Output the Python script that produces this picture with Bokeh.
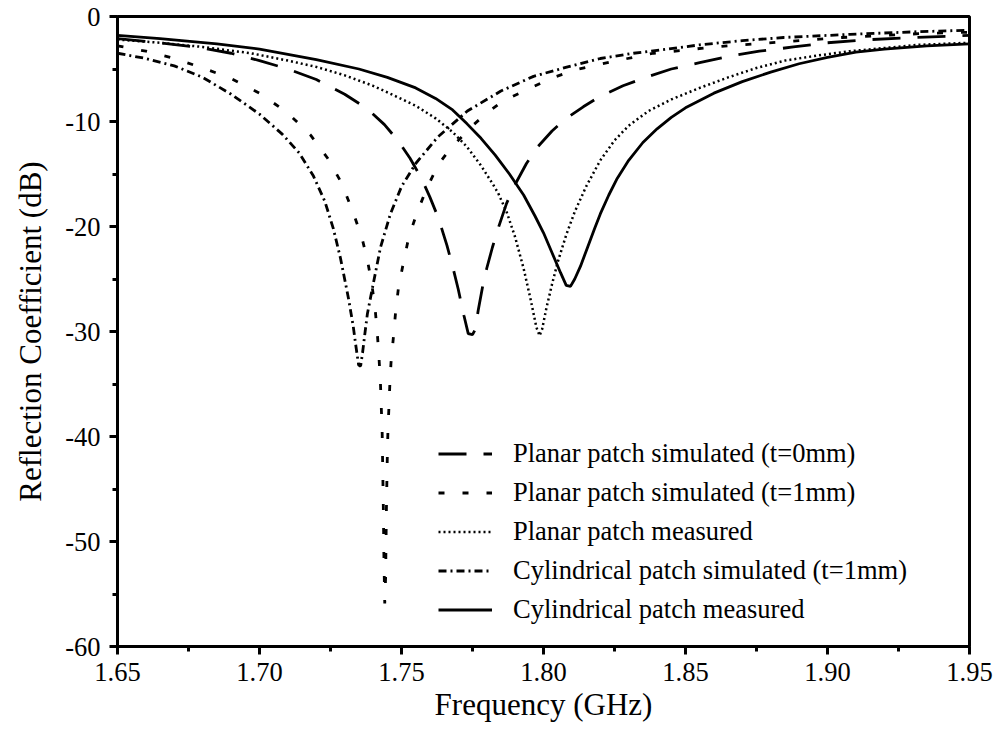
from bokeh.plotting import figure
from bokeh.models import FixedTicker, PrintfTickFormatter, Legend, LegendItem, Range1d
from bokeh.embed import file_html
from bokeh.resources import INLINE

# ---- data (frequency in GHz, reflection coefficient in dB) ----
f_sim0 = [1.65, 1.665, 1.68, 1.69, 1.70, 1.71, 1.72, 1.73, 1.738, 1.744, 1.749, 1.753, 1.757,
          1.760, 1.763, 1.766, 1.768, 1.770, 1.772, 1.7735, 1.775, 1.776, 1.777, 1.7785, 1.780,
          1.782, 1.784, 1.787, 1.790, 1.794, 1.798, 1.803, 1.808, 1.814, 1.820, 1.828, 1.836,
          1.845, 1.855, 1.865, 1.876, 1.888, 1.900, 1.915, 1.930, 1.95]
db_sim0 = [-2.1, -2.5, -3.0, -3.5, -4.2, -5.0, -6.0, -7.4, -8.8, -10.3, -11.9, -13.5, -15.4,
           -17.2, -19.2, -21.8, -23.8, -26.0, -28.5, -30.2, -30.3, -29.8, -28.0, -25.8, -24.0,
           -22.0, -20.2, -17.8, -16.0, -14.0, -12.4, -10.9, -9.7, -8.6, -7.6, -6.6, -5.8,
           -5.0, -4.4, -3.8, -3.3, -2.9, -2.5, -2.2, -2.0, -1.8]

f_sim1 = [1.65, 1.66, 1.67, 1.68, 1.69, 1.70, 1.71, 1.718, 1.724, 1.729, 1.733, 1.736, 1.738,
          1.7395, 1.7407, 1.7415, 1.7421, 1.7426, 1.7432, 1.7436, 1.7438, 1.7441,
          1.7444, 1.7447, 1.7450, 1.7452, 1.7459, 1.7463, 1.7472, 1.7479, 1.7489, 1.7507,
          1.7525, 1.7553, 1.759, 1.763, 1.766, 1.770, 1.775, 1.780, 1.786, 1.7947, 1.8035,
          1.8123, 1.8208, 1.8296, 1.8387, 1.85, 1.86, 1.875, 1.89, 1.905, 1.92, 1.935, 1.95]
db_sim1 = [-2.8, -3.3, -4.0, -4.9, -5.9, -7.3, -9.2, -11.3, -13.5, -15.9, -18.7, -21.0, -23.2,
           -25.4, -27.8, -30.2, -32.6, -35.0, -39.7, -46.7, -51.3, -55.9,
           -53.5, -46.7, -42.0, -39.7, -35.0, -33.0, -30.4, -28.2, -25.9, -23.4,
           -21.1, -18.8, -16.3, -14.1, -13.0, -11.8, -10.4, -9.2, -8.0, -6.9, -5.8,
           -5.0, -4.5, -4.0, -3.5, -3.2, -2.9, -2.6, -2.3, -2.0, -1.8, -1.6, -1.5]

f_pmeas = [1.65, 1.665, 1.68, 1.697, 1.71, 1.72, 1.73, 1.74, 1.748, 1.755, 1.762, 1.768,
           1.773, 1.778, 1.782, 1.784, 1.787, 1.790, 1.793, 1.7955, 1.7975, 1.7986, 1.7995,
           1.801, 1.803, 1.805, 1.808, 1.811, 1.815, 1.820, 1.825, 1.830, 1.837, 1.845,
           1.855, 1.865, 1.875, 1.885, 1.897, 1.908, 1.920, 1.932, 1.95]
db_pmeas = [-2.2, -2.5, -2.9, -3.5, -4.2, -4.8, -5.6, -6.6, -7.6, -8.5, -9.7, -11.0,
            -12.4, -14.2, -15.9, -16.8, -18.6, -21.0, -24.0, -27.0, -29.6, -30.4, -29.8,
            -27.8, -25.5, -23.4, -20.8, -18.6, -16.2, -13.7, -11.8, -10.4, -9.0, -7.9,
            -6.8, -5.8, -4.9, -4.2, -3.7, -3.3, -3.0, -2.7, -2.5]

f_csim = [1.65, 1.66, 1.67, 1.68, 1.69, 1.70, 1.708, 1.714, 1.719, 1.723, 1.726, 1.7285,
          1.7313, 1.7330, 1.7340, 1.7349, 1.7356, 1.7363, 1.7372, 1.738, 1.7398, 1.7426,
          1.7461, 1.750, 1.755, 1.7627, 1.7732, 1.785, 1.7965, 1.8085, 1.820, 1.8317,
          1.8437, 1.855, 1.870, 1.8845, 1.908, 1.9317, 1.95]
db_csim = [-3.5, -4.0, -4.7, -5.8, -7.4, -9.3, -11.2, -13.0, -15.2, -17.6, -20.2, -23.0,
           -26.8, -29.5, -31.5, -33.2, -33.3, -32.0, -30.0, -28.3, -25.8, -22.0,
           -18.8, -16.2, -14.0, -11.5, -9.0, -7.1, -5.7, -4.8, -4.0, -3.5,
           -3.1, -2.7, -2.3, -2.0, -1.7, -1.45, -1.3]

f_cmeas = [1.65, 1.665, 1.685, 1.700, 1.720, 1.735, 1.745, 1.755, 1.762, 1.768, 1.773,
           1.778, 1.783, 1.788, 1.793, 1.797, 1.800, 1.803, 1.806, 1.808, 1.8095, 1.811,
           1.813, 1.8155, 1.818, 1.820, 1.823, 1.826, 1.830, 1.835, 1.840, 1.845, 1.850,
           1.860, 1.870, 1.880, 1.890, 1.900, 1.910, 1.920, 1.935, 1.95]
db_cmeas = [-1.8, -2.1, -2.6, -3.1, -4.1, -5.0, -5.8, -6.8, -7.8, -8.9, -10.2,
            -11.6, -13.2, -15.0, -17.0, -19.0, -20.6, -22.5, -24.4, -25.6, -25.7, -25.0,
            -23.8, -22.0, -20.2, -18.8, -17.0, -15.4, -13.7, -12.0, -10.7, -9.6, -8.7,
            -7.3, -6.2, -5.3, -4.5, -3.9, -3.4, -3.1, -2.8, -2.6]

labels = ["Planar patch simulated (t=0mm)", "Planar patch simulated (t=1mm)",
          "Planar patch measured", "Cylindrical patch simulated (t=1mm)",
          "Cylindrical patch measured"]

x_major = [1.65, 1.70, 1.75, 1.80, 1.85, 1.90, 1.95]
x_minor = [1.675, 1.725, 1.775, 1.825, 1.875, 1.925]
y_major = [0, -10, -20, -30, -40, -50, -60]
y_minor = [-5, -15, -25, -35, -45, -55]

FONT = "Liberation Serif"

p = figure(width=999, height=733, output_backend="svg", toolbar_location=None,
           x_range=Range1d(1.65, 1.95), y_range=Range1d(-60, 0),
           min_border_left=117, min_border_right=30, min_border_top=16, min_border_bottom=87)
p.background_fill_color = "white"
p.border_fill_color = "white"
p.xgrid.visible = False
p.ygrid.visible = False
p.outline_line_color = "black"
p.outline_line_width = 3

p.xaxis.ticker = FixedTicker(ticks=x_major, minor_ticks=x_minor)
p.yaxis.ticker = FixedTicker(ticks=y_major, minor_ticks=y_minor)
p.xaxis.formatter = PrintfTickFormatter(format="%.2f")
p.yaxis.formatter = PrintfTickFormatter(format="%d")

for ax in (p.xaxis, p.yaxis):
    ax.axis_line_width = 3
    ax.axis_line_color = "black"
    ax.major_tick_line_width = 3
    ax.minor_tick_line_width = 3
    ax.major_tick_line_color = "black"
    ax.minor_tick_line_color = "black"
    ax.major_tick_in = 0
    ax.major_tick_out = 8
    ax.minor_tick_in = 0
    ax.minor_tick_out = 5
    ax.major_label_text_font = FONT
    ax.major_label_text_font_size = "26.5px"
    ax.major_label_text_color = "black"
    ax.axis_label_text_font = FONT
    ax.axis_label_text_font_size = "31px"
    ax.axis_label_text_font_style = "normal"
    ax.axis_label_text_color = "black"

p.xaxis.axis_label = "Frequency (GHz)"
p.yaxis.axis_label = "Reflection Coefficient (dB)"
p.xaxis.major_label_standoff = 8
p.yaxis.major_label_standoff = 9
p.xaxis.axis_label_standoff = 3
p.yaxis.axis_label_standoff = 14

r1 = p.line(f_sim0, db_sim0, line_color="black", line_width=2.8, line_dash="28 17")
r2 = p.line(f_sim1, db_sim1, line_color="black", line_width=2.8, line_dash="6 18")
r3 = p.line(f_pmeas, db_pmeas, line_color="black", line_width=2.5, line_dash="2 3")
r4 = p.line(f_csim, db_csim, line_color="black", line_width=2.8, line_dash="8 4 2 4")
r5 = p.line(f_cmeas, db_cmeas, line_color="black", line_width=2.8)

legend = Legend(items=[LegendItem(label=labels[i], renderers=[r])
                       for i, r in enumerate([r1, r2, r3, r4, r5])],
                location=(321, 17))
legend.background_fill_alpha = 0
legend.border_line_alpha = 0
legend.glyph_width = 54
legend.glyph_height = 39
legend.label_height = 39
legend.spacing = 0
legend.padding = 0
legend.margin = 0
legend.label_standoff = 21
legend.label_text_font = FONT
legend.label_text_font_size = "26.5px"
legend.label_text_color = "black"
p.add_layout(legend)

open("out.html", "w").write(file_html(p, INLINE))
